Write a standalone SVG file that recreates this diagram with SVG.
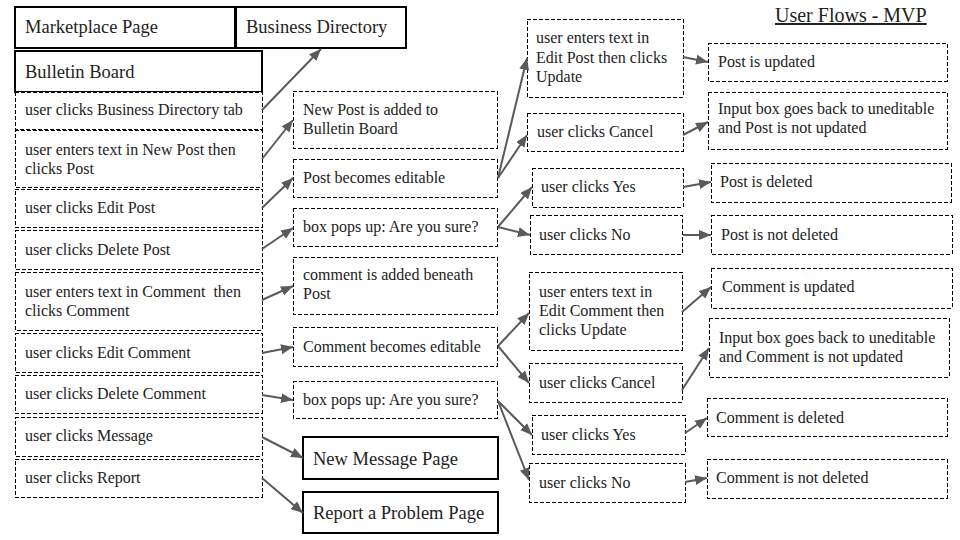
<svg xmlns="http://www.w3.org/2000/svg" width="960" height="540" viewBox="0 0 960 540">
<defs>
<style>
.d{fill:#fff;stroke:#000;stroke-width:1;stroke-dasharray:4 2;shape-rendering:crispEdges}
.s{fill:#fff;stroke:#000;stroke-width:2}
text{font-family:"Liberation Serif","Times New Roman",serif;fill:#222}
.t{font-size:16px}
.b{font-size:18.5px}
.c line{stroke:#5a5a5a;stroke-width:2;marker-end:url(#ah)}
</style>
<marker id="ah" markerUnits="userSpaceOnUse" markerWidth="13" markerHeight="10" refX="12" refY="5" orient="auto">
<path d="M0,0 L12,5 L0,10 z" fill="#5a5a5a"/>
</marker>
</defs>
<rect width="960" height="540" fill="#fff"/>

<g id="title"><text x="775" y="22" font-size="20" text-decoration="underline">User Flows - MVP</text></g>

<g id="n-market"><rect class="s" x="15" y="7" width="220" height="41"/><text class="b" x="25" y="33">Marketplace Page</text></g>
<g id="n-bizdir"><rect class="s" x="236" y="7" width="170" height="41"/><text class="b" x="246" y="33">Business Directory</text></g>
<g id="n-bulletin"><rect class="s" x="15" y="51" width="247" height="41"/><text class="b" x="25" y="78">Bulletin Board</text></g>

<g id="n-l1"><rect class="d" x="15" y="92" width="247" height="37"/><text class="t" x="25" y="115">user clicks Business Directory tab</text></g>
<g id="n-l2"><rect class="d" x="15" y="130" width="247" height="57"/><text class="t" x="25" y="155">user enters text in New Post then</text><text class="t" x="25" y="174">clicks Post</text></g>
<g id="n-l3"><rect class="d" x="15" y="189" width="247" height="38"/><text class="t" x="25" y="213">user clicks Edit Post</text></g>
<g id="n-l4"><rect class="d" x="15" y="230" width="247" height="39"/><text class="t" x="25" y="255">user clicks Delete Post</text></g>
<g id="n-l5"><rect class="d" x="15" y="272" width="247" height="58"/><text class="t" x="25" y="297" xml:space="preserve">user enters text in Comment  then</text><text class="t" x="25" y="316">clicks Comment</text></g>
<g id="n-l6"><rect class="d" x="15" y="333" width="247" height="39"/><text class="t" x="25" y="358">user clicks Edit Comment</text></g>
<g id="n-l7"><rect class="d" x="15" y="375" width="247" height="38"/><text class="t" x="25" y="399">user clicks Delete Comment</text></g>
<g id="n-l8"><rect class="d" x="15" y="417" width="247" height="39"/><text class="t" x="25" y="441">user clicks Message</text></g>
<g id="n-l9"><rect class="d" x="15" y="459" width="247" height="38"/><text class="t" x="25" y="483">user clicks Report</text></g>

<g id="n-m1"><rect class="d" x="293" y="91" width="204" height="57"/><text class="t" x="303" y="115">New Post is added to</text><text class="t" x="303" y="134">Bulletin Board</text></g>
<g id="n-m2"><rect class="d" x="293" y="159" width="204" height="38"/><text class="t" x="303" y="183">Post becomes editable</text></g>
<g id="n-m3"><rect class="d" x="293" y="208" width="204" height="38"/><text class="t" x="303" y="232">box pops up: Are you sure?</text></g>
<g id="n-m4"><rect class="d" x="293" y="257" width="204" height="57"/><text class="t" x="303" y="280">comment is added beneath</text><text class="t" x="303" y="299">Post</text></g>
<g id="n-m5"><rect class="d" x="293" y="327" width="204" height="39"/><text class="t" x="303" y="352">Comment becomes editable</text></g>
<g id="n-m6"><rect class="d" x="293" y="381" width="204" height="37"/><text class="t" x="303" y="405">box pops up: Are you sure?</text></g>
<g id="n-msg"><rect class="s" x="303" y="437" width="195" height="42"/><text class="b" x="313" y="465">New Message Page</text></g>
<g id="n-report"><rect class="s" x="303" y="492" width="195" height="41"/><text class="b" x="313" y="519">Report a Problem Page</text></g>

<g id="n-p1"><rect class="d" x="527" y="19" width="156" height="78"/><text class="t" x="536" y="43">user enters text in</text><text class="t" x="536" y="63">Edit Post then clicks</text><text class="t" x="536" y="82">Update</text></g>
<g id="n-p2"><rect class="d" x="527" y="113" width="156" height="38"/><text class="t" x="537" y="137">user clicks Cancel</text></g>
<g id="n-p3"><rect class="d" x="532" y="168" width="151" height="39"/><text class="t" x="541" y="192">user clicks Yes</text></g>
<g id="n-p4"><rect class="d" x="530" y="215" width="152" height="39"/><text class="t" x="539" y="240">user clicks No</text></g>

<g id="n-r1"><rect class="d" x="708" y="43" width="239" height="38"/><text class="t" x="718" y="67">Post is updated</text></g>
<g id="n-r2"><rect class="d" x="708" y="92" width="239" height="57"/><text class="t" x="718" y="114">Input box goes back to uneditable</text><text class="t" x="718" y="133">and Post is not updated</text></g>
<g id="n-r3"><rect class="d" x="711" y="163" width="240" height="39"/><text class="t" x="720" y="187">Post is deleted</text></g>
<g id="n-r4"><rect class="d" x="711" y="215" width="241" height="39"/><text class="t" x="721" y="240">Post is not deleted</text></g>

<g id="n-c1"><rect class="d" x="529" y="272" width="153" height="78"/><text class="t" x="539" y="297">user enters text in</text><text class="t" x="539" y="316">Edit Comment then</text><text class="t" x="539" y="335">clicks Update</text></g>
<g id="n-c2"><rect class="d" x="529" y="363" width="153" height="39"/><text class="t" x="539" y="388">user clicks Cancel</text></g>
<g id="n-c3"><rect class="d" x="532" y="415" width="153" height="39"/><text class="t" x="541" y="440">user clicks Yes</text></g>
<g id="n-c4"><rect class="d" x="529" y="463" width="156" height="39"/><text class="t" x="539" y="488">user clicks No</text></g>

<g id="n-s1"><rect class="d" x="711" y="268" width="241" height="40"/><text class="t" x="722" y="292">Comment is updated</text></g>
<g id="n-s2"><rect class="d" x="709" y="318" width="240" height="59"/><text class="t" x="719" y="343">Input box goes back to uneditable</text><text class="t" x="719" y="362">and Comment is not updated</text></g>
<g id="n-s3"><rect class="d" x="707" y="398" width="240" height="38"/><text class="t" x="716" y="423">Comment is deleted</text></g>
<g id="n-s4"><rect class="d" x="707" y="459" width="240" height="39"/><text class="t" x="716" y="483">Comment is not deleted</text></g>

<g id="connectors" class="c">
<line x1="262" y1="110" x2="321" y2="49"/>
<line x1="262" y1="159" x2="293" y2="120"/>
<line x1="262" y1="208" x2="293" y2="178"/>
<line x1="262" y1="249" x2="293" y2="228"/>
<line x1="262" y1="300" x2="293" y2="286"/>
<line x1="262" y1="353" x2="293" y2="347"/>
<line x1="262" y1="395" x2="293" y2="400"/>
<line x1="262" y1="437" x2="303" y2="458"/>
<line x1="262" y1="478" x2="303" y2="513"/>
<line x1="498" y1="178" x2="527" y2="58"/>
<line x1="498" y1="178" x2="527" y2="135"/>
<line x1="498" y1="227" x2="532" y2="187"/>
<line x1="498" y1="227" x2="530" y2="235"/>
<line x1="683" y1="57" x2="708" y2="62"/>
<line x1="683" y1="135" x2="708" y2="122"/>
<line x1="683" y1="187" x2="711" y2="182"/>
<line x1="683" y1="235" x2="711" y2="235"/>
<line x1="498" y1="346" x2="529" y2="313"/>
<line x1="498" y1="346" x2="529" y2="383"/>
<line x1="498" y1="401" x2="532" y2="435"/>
<line x1="498" y1="401" x2="529" y2="480"/>
<line x1="682" y1="312" x2="711" y2="287"/>
<line x1="682" y1="390" x2="709" y2="348"/>
<line x1="685" y1="433" x2="707" y2="418"/>
<line x1="685" y1="482" x2="707" y2="478"/>
</g>
</svg>
